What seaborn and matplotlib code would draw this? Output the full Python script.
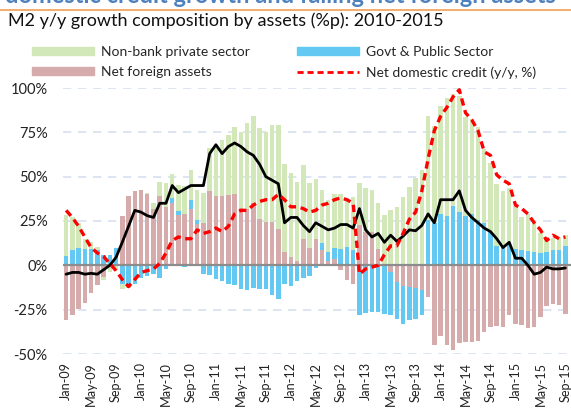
import numpy as np
import pandas as pd
import matplotlib
matplotlib.use("Agg")
import matplotlib.pyplot as plt
import seaborn as sns
from matplotlib.patches import Patch
from matplotlib.lines import Line2D

# Monthly data, Jan-09 .. Sep-15 (%p contributions to M2 y/y growth)
months = pd.date_range("2009-01-01", periods=81, freq="MS").strftime("%b-%y").tolist()

non_bank = [23.6, 18.5, 14, 6, 3.6, 1.5, -1.5, -3.8, -2, -2.5, -2, -0.5, 0, 1, 3, 8,
            13.5, 13.6, 15, 16, 17, 17, 17, 24.3, 29, 31.5, 34, 38, 42.7, 48, 48.7, 51,
            51, 55, 58.7, 49.8, 47.6, 44.6, 41.7, 36.6, 33.8, 29.5, 29.2, 30.6, 31, 27.3, 30, 23.8,
            24.8, 23.5, 26, 28.6, 31, 32.8, 38.8, 44.4, 49, 53.5, 58.7, 55, 61, 67, 63.4, 65.7,
            55.7, 53.5, 52.4, 42, 39, 35.2, 31, 32, 24.5, 18.6, 21, 17.8, 11, 7.3, 7.1, 7, 6.5]

govt = [5, 8.5, 9.6, 9, 9.4, 8.6, 5.6, 5.6, 9, -10.7, -11, -10.3, -7.3, -6, -5, -7,
        -2, 3, 2.3, -1, 4.6, 2, -4.7, -5.3, -7.5, -8.8, -10.7, -11, -13.5, -14, -12.8, -13.5,
        -13.5, -16.5, -18.8, -10.3, -11.7, -9, -7.1, -6.2, -1.5, 4.3, 5, 6, 9.4, 10.3, 8.5, -27.8,
        -27, -26.3, -26.3, -27.3, -24, -21, -21.5, -18.8, -17.3, -14, 25.3, 23.8, 29, 27.6, 33.2, 30,
        28.1, 29, 25.5, 23.7, 18.8, 10.8, 10.8, 11.7, 9, 8.8, 8.2, 7.5, 7, 7.5, 8.4, 8.9, 10.7]

nfa = [-31, -28, -24.5, -21, -15.4, -11, -6.6, 0, 1, 28, 39, 41.7, 42.7, 40, 32, 39,
       33, 35, 28.2, 29, 32, 23.5, 24, 41.7, 39, 39, 39.5, 40, 32.3, 32, 35.3, 26.3,
       24.4, 24.4, 20.3, 7.5, 4.7, 2.4, 14.7, 9.8, 14.7, 8.5, 2.4, 3.8, -2.8, -8.5, -10.3, 22.6,
       18.8, 18.8, 9.4, 0, -4, -9.4, -11.7, -12.2, -13, -14, -17.9, -45, -40, -44.8, -47.5, -44,
       -43.5, -43, -42.6, -37.5, -34.5, -34.3, -35, -28, -33, -33.5, -35.6, -35, -29, -22.8, -21.6, -22.5, -27.3]

m2 = [-5, -4, -4, -5, -4.5, -5, -2.5, 0, 4.5, 13, 22, 31, 30, 28, 27, 35,
      35, 45, 41, 43, 45, 45, 45, 63, 68, 63, 67, 69, 67, 64, 62, 57,
      50, 48, 46, 24, 27, 27, 22.5, 19, 24, 22, 20, 21, 23, 23, 21, 32,
      20, 16, 18, 13, 17, 13.5, 16.5, 20, 19.5, 22.5, 29, 24, 37, 37, 37, 42,
      31, 27, 24, 21, 19, 15, 10, 13, 4, 4, 0, -5, -4, -1, -2, -2, -1.5]

ndc = [31, 27, 22, 16, 10, 7, 5, 1, -3, -8, -12, -8, -4, -3, -2, 1,
       7, 14, 16, 15, 15, 20, 18, 19, 21, 19, 22, 29, 31, 31, 34, 36,
       37, 37, 40, 37, 33, 33, 32, 30, 31, 34, 35, 37, 38, 37, 35, -5,
       -2, -1, 0, 6, 11, 11, 18, 26, 30, 42, 60, 76, 84, 89, 95, 99,
       86, 82, 76, 64, 62, 51, 48, 46, 34, 32, 29, 24, 20, 14, 17, 15, 16]

green = "#d3e8b8"
blue = "#63c8f2"
brown = "#d5abab"

sns.set_style("white")
plt.rcParams["font.family"] = ["Lato", "DejaVu Sans"]

fig = plt.figure(figsize=(5.71, 4.08), dpi=100)
ax = fig.add_axes([63 / 571, 1 - 354 / 408, 1 - 63 / 571, (354 - 88) / 408])

x = np.arange(len(months))
pos_base = np.zeros(len(x))
neg_base = np.zeros(len(x))
for vals, col in [(nfa, brown), (govt, blue), (non_bank, green)]:
    v = np.array(vals, dtype=float)
    bottom = np.where(v >= 0, pos_base, neg_base)
    ax.bar(x, v, bottom=bottom, width=0.72, color=col, linewidth=0, zorder=2)
    pos_base += np.clip(v, 0, None)
    neg_base += np.clip(v, None, 0)

df = pd.DataFrame({"i": x, "m2": m2, "ndc": ndc})
sns.lineplot(data=df, x="i", y="m2", color="black", lw=2, ax=ax, zorder=4, clip_on=False)
sns.lineplot(data=df, x="i", y="ndc", color="#ff0000", lw=2.4, ax=ax, zorder=5,
             linestyle=(0, (2.2, 1.4)), clip_on=False)

ax.axhline(0, color="#8c8c8c", lw=1.6, zorder=3)
for g in [100, 75, 50, 25, -25, -50]:
    ax.axhline(g, color="#d6e0ef", lw=1.2, linestyle=(0, (5, 4)), zorder=1)

ax.set_ylim(-50, 100)
ax.set_xlim(-0.5, 80.9)
ax.set_yticks([100, 75, 50, 25, 0, -25, -50])
ax.set_yticklabels(["100%", "75%", "50%", "25%", "0%", "-25%", "-50%"], fontsize=10.5, color="#222222")
ax.set_xticks(x[::4])
ax.set_xticklabels(months[::4], rotation=90, fontsize=9.1, color="#222222")
ax.tick_params(axis="both", length=0)
ax.tick_params(axis="y", pad=11)
ax.tick_params(axis="x", pad=6)
ax.set_xlabel("")
ax.set_ylabel("")
for s in ax.spines.values():
    s.set_visible(False)

# header: clipped blue heading, orange rule, chart title
fig.text(5 / 571, 1 - 3 / 408, "domestic credit growth and falling net foreign assets",
         fontsize=17, fontweight="bold", color="#4f81bd", va="baseline")
fig.add_artist(Line2D([0, 1], [1 - 10 / 408, 1 - 10 / 408], color="#f0a050", lw=1.2))
fig.text(8 / 571, 1 - 21 / 408, "M2 y/y growth composition by assets (%p): 2010-2015",
         fontsize=13, color="#111111", va="center")

handles = [Patch(color=green, label="Non-bank private sector"),
           Patch(color=brown, label="Net foreign assets"),
           Patch(color=blue, label="Govt & Public Sector"),
           Line2D([], [], color="#ff0000", lw=2, linestyle=(0, (2.2, 1.4)),
                  label="Net domestic credit (y/y, %)")]
fig.legend(handles=handles, ncol=2, loc="upper left", bbox_to_anchor=(25 / 571, 1 - 39 / 408),
           frameon=False, fontsize=10, handlelength=4.45, handleheight=0.5,
           handletextpad=0.5, columnspacing=3.4, labelspacing=0.6, borderpad=0)

fig.savefig("out.png", dpi=100)
